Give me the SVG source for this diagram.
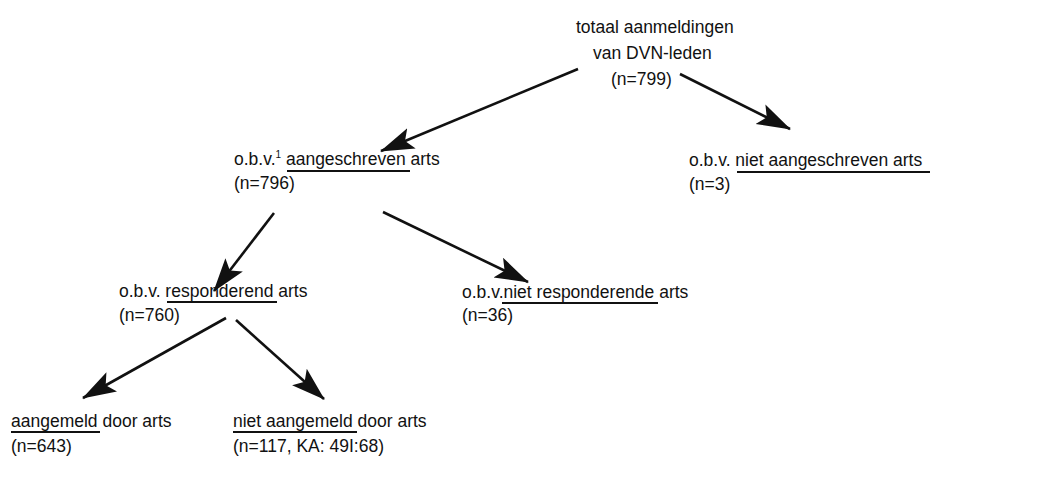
<svg xmlns="http://www.w3.org/2000/svg" width="1042" height="480" viewBox="0 0 1042 480">
<defs>
<style>
text{font-family:"Liberation Sans",Arial,sans-serif;font-size:17.5px;fill:#111}
.u{stroke:#111;stroke-width:2.2;fill:none}
.c{stroke:#111;stroke-width:2.6;fill:none;marker-end:url(#ah)}
</style>
<marker id="ah" markerUnits="userSpaceOnUse" markerWidth="34" markerHeight="24" viewBox="0 0 34 24" refX="33" refY="12" orient="auto">
<path d="M0,1 L34,12 L0,23 L7,12 Z" fill="#111"/>
</marker>
</defs>
<rect width="1042" height="480" fill="#fff"/>
<g id="n0">
<text x="576" y="33">totaal aanmeldingen</text>
<text x="593" y="59">van DVN-leden</text>
<text x="611" y="85">(n=799)</text>
</g>
<g id="n1">
<text x="234" y="165">o.b.v.<tspan font-size="10" dy="-7">1</tspan><tspan dy="7"> aangeschreven</tspan> arts</text>
<line class="u" x1="287" y1="171" x2="410" y2="171"/>
<text x="234" y="189">(n=796)</text>
</g>
<g id="n2">
<text x="689" y="166">o.b.v. niet aangeschreven arts</text>
<line class="u" x1="737" y1="172" x2="930" y2="172"/>
<text x="689" y="190">(n=3)</text>
</g>
<g id="n3">
<text x="119" y="297">o.b.v. responderend arts</text>
<line class="u" x1="167" y1="302" x2="277" y2="302"/>
<text x="119" y="321">(n=760)</text>
</g>
<g id="n4">
<text x="462" y="298">o.b.v.niet responderende arts</text>
<line class="u" x1="502" y1="303" x2="658" y2="303"/>
<text x="462" y="321">(n=36)</text>
</g>
<g id="n5">
<text x="11" y="427">aangemeld door arts</text>
<line class="u" x1="11" y1="432" x2="100" y2="432"/>
<text x="11" y="452">(n=643)</text>
</g>
<g id="n6">
<text x="233" y="427">niet aangemeld door arts</text>
<line class="u" x1="233" y1="432" x2="357" y2="432"/>
<text x="233" y="452">(n=117, KA: 49I:68)</text>
</g>
<g id="connectors">
<line class="c" x1="578" y1="69" x2="381" y2="151"/>
<line class="c" x1="680" y1="74" x2="790" y2="129"/>
<line class="c" x1="274" y1="213" x2="214" y2="291"/>
<line class="c" x1="383" y1="212" x2="528" y2="282"/>
<line class="c" x1="226" y1="318" x2="83" y2="398"/>
<line class="c" x1="236" y1="320" x2="324" y2="399"/>
</g>
</svg>
